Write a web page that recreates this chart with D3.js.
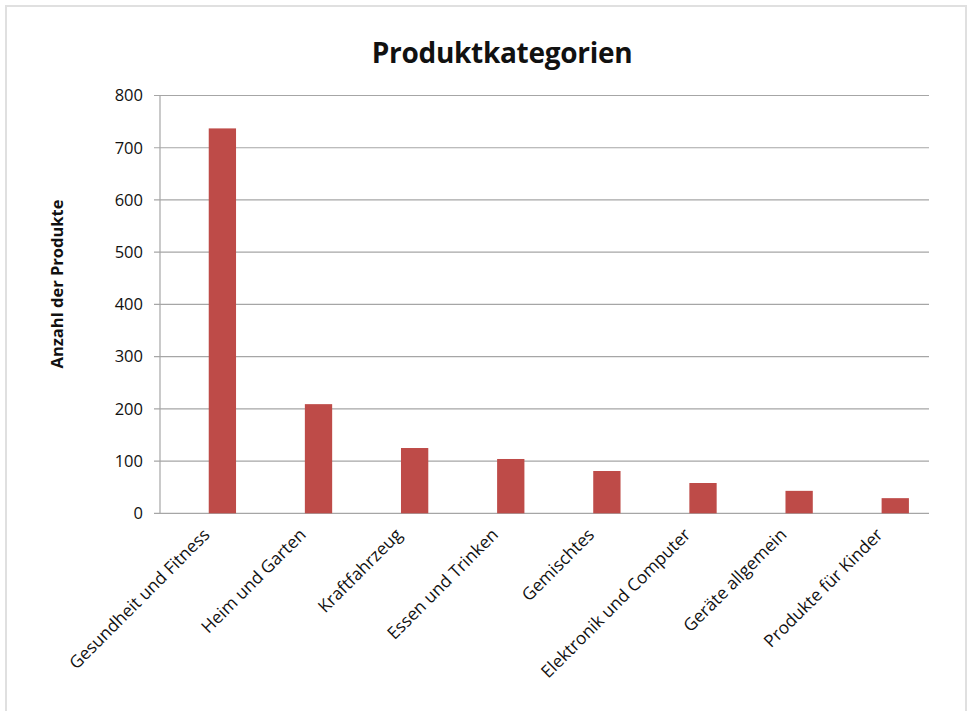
<!DOCTYPE html>
<html><head><meta charset="utf-8">
<script src="https://cdn.jsdelivr.net/npm/d3@7"></script>
<style>
html,body{margin:0;padding:0;background:#fff;}
svg{display:block;font-family:"Open Sans",sans-serif;}
</style></head>
<body>
<svg id="chart" width="969" height="711"></svg>
<script>
const categories = ["Gesundheit und Fitness","Heim und Garten","Kraftfahrzeug","Essen und Trinken","Gemischtes","Elektronik und Computer","Geräte allgemein","Produkte für Kinder"];
const values = [737, 209, 125, 104, 81, 58, 43, 29];
const yTicks = [0,100,200,300,400,500,600,700,800];
const chartTitle = "Produktkategorien";
const yTitle = "Anzahl der Produkte";

const svg = d3.select("#chart");
const W = 969, H = 711;
const plotLeft = 160, plotRight = 929, plotTop = 95.5, plotBottom = 513.3;

// outer border
svg.append("path").attr("d", `M6,${H} V6 H966 V${H}`).attr("fill","none").attr("stroke","#e0e0e0").attr("stroke-width",2);

const x = d3.scaleBand().domain(categories).range([plotLeft, plotRight]).padding(0);
const y = d3.scaleLinear().domain([0, 800]).range([plotBottom, plotTop]);

// gridlines
svg.append("g").selectAll("line").data(yTicks).join("line")
  .attr("x1", plotLeft - 6).attr("x2", plotRight)
  .attr("y1", d => y(d)).attr("y2", d => y(d))
  .attr("stroke", "#a6a6a6").attr("stroke-width", 1.2);

// y axis line
svg.append("line").attr("x1", plotLeft).attr("x2", plotLeft).attr("y1", y(800)).attr("y2", y(0))
  .attr("stroke", "#a6a6a6").attr("stroke-width", 1.2);

// y tick labels
svg.append("g").selectAll("text").data(yTicks).join("text")
  .attr("x", plotLeft - 17).attr("y", d => y(d)).attr("dy", "0.35em")
  .attr("text-anchor", "end").attr("font-size", 16.5).attr("fill", "#111")
  .text(d => d);

// bars
const bw = x.step() * 0.284;
svg.append("g").selectAll("rect").data(values).join("rect")
  .attr("x", (d, i) => x(categories[i]) + x.step() * 0.507)
  .attr("y", d => y(d))
  .attr("width", bw)
  .attr("height", d => y(0) - y(d))
  .attr("fill", "#be4b48");

// category labels
svg.append("g").selectAll("text").data(categories).join("text")
  .attr("transform", d => `translate(${x(d) + x.step()/2 - 6},${527}) rotate(-45)`)
  .attr("text-anchor", "end").attr("dy", "0.72em")
  .attr("font-size", 17.3).attr("fill", "#111")
  .text(d => d);

// title
svg.append("text").attr("x", 502).attr("y", 63).attr("text-anchor", "middle")
  .attr("font-size", 28).attr("font-weight", "bold").attr("fill", "#111")
  .attr("letter-spacing", "-0.3px")
  .text(chartTitle);

// y title
svg.append("text").attr("transform", `translate(63,284) rotate(-90)`)
  .attr("text-anchor", "middle").attr("font-size", 16.5).attr("font-weight", "bold").attr("fill", "#111")
  .text(yTitle);
</script>
</body></html>
